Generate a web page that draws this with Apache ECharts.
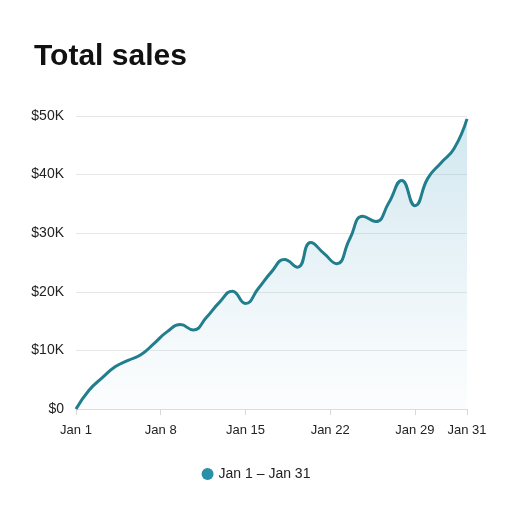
<!DOCTYPE html>
<html lang="en">
<head>
    <meta charset="UTF-8">
    <title>Total sales</title>
    <style>
        html, body { margin: 0; padding: 0; background: #ffffff; }
    </style>
</head>
<body>
    <div id="chart" style="width: 512px;height: 512px"></div>

    <script src="https://cdn.jsdelivr.net/npm/echarts@6/dist/echarts.min.js"></script>
    <script>
        // days since Jan 1 (0 = Jan 1 ... 30 = Jan 31)
        var days = [0, 1, 2, 3, 4, 5, 6, 7, 8, 9, 10, 11, 12, 13, 14, 15,
                    16, 17, 18, 19, 20, 21, 22, 23, 24, 25, 26, 27, 28, 29, 30];
        // daily total sales, $K
        var sales = [0, 3.2, 5.3, 7.2, 8.3, 9.3, 11.2, 13.2, 14.4, 13.5, 15.6, 18.2, 20.1, 18.0, 20.6, 23.4,
                     25.5, 24.2, 28.4, 26.6, 24.8, 29.0, 32.9, 32.0, 35.2, 39.0, 34.7, 39.4, 42.0, 44.4, 49.5];
        // where the x labels sit in the picture, and what they say
        var tickPositions = [0, 6.5, 13, 19.5, 26, 30];
        var tickLabels = ['Jan 1', 'Jan 8', 'Jan 15', 'Jan 22', 'Jan 29', 'Jan 31'];
        var seriesName = 'Jan 1 – Jan 31';

        var myChart = echarts.init(document.getElementById('chart'));

        var points = days.map(function (d, i) { return [d, sales[i]]; });

        myChart.setOption({
            backgroundColor: '#ffffff',
            textStyle: { fontFamily: 'Liberation Sans, Arial, sans-serif' },
            title: {
                text: 'Total sales',
                left: 29,
                top: 37,
                textStyle: { fontSize: 30, fontWeight: 'bold', color: '#111111' }
            },
            legend: {
                bottom: 26,
                left: 'center',
                icon: 'circle',
                itemWidth: 12,
                itemHeight: 12,
                textStyle: { fontSize: 14, color: '#222222' },
                data: [{ name: seriesName, itemStyle: { color: '#2a8fa8' } }]
            },
            grid: {
                left: 76,
                right: 45,
                top: 116,
                bottom: 103
            },
            xAxis: {
                type: 'value',
                min: 0,
                max: 30,
                splitLine: { show: false },
                axisLine: { lineStyle: { color: '#dddddd' } },
                axisTick: {
                    length: 6,
                    lineStyle: { color: '#d8d8d8' },
                    customValues: tickPositions
                },
                axisLabel: {
                    customValues: tickPositions,
                    margin: 15,
                    fontSize: 13,
                    color: '#222222',
                    formatter: function (v) {
                        var i = tickPositions.indexOf(v);
                        return i >= 0 ? tickLabels[i] : '';
                    }
                }
            },
            yAxis: {
                type: 'value',
                min: 0,
                max: 50,
                interval: 10,
                axisLine: { show: false },
                axisTick: { show: false },
                splitLine: { lineStyle: { color: '#e6e6e6' } },
                axisLabel: {
                    margin: 12,
                    fontSize: 14,
                    color: '#222222',
                    formatter: function (v) {
                        return v === 0 ? '$0' : '$' + v + 'K';
                    }
                }
            },
            series: [
                {
                    name: seriesName,
                    type: 'line',
                    smooth: 0.5,
                    symbol: 'none',
                    data: points,
                    lineStyle: { width: 3, color: '#217e8c' },
                    itemStyle: { color: '#217e8c' },
                    areaStyle: {
                        color: new echarts.graphic.LinearGradient(0, 0, 0, 1, [
                            { offset: 0, color: 'rgba(120, 185, 208, 0.5)' },
                            { offset: 0.6, color: 'rgba(160, 205, 222, 0.28)' },
                            { offset: 1, color: 'rgba(210, 230, 240, 0.12)' }
                        ])
                    }
                }
            ]
        });
    </script>
</body>
</html>
